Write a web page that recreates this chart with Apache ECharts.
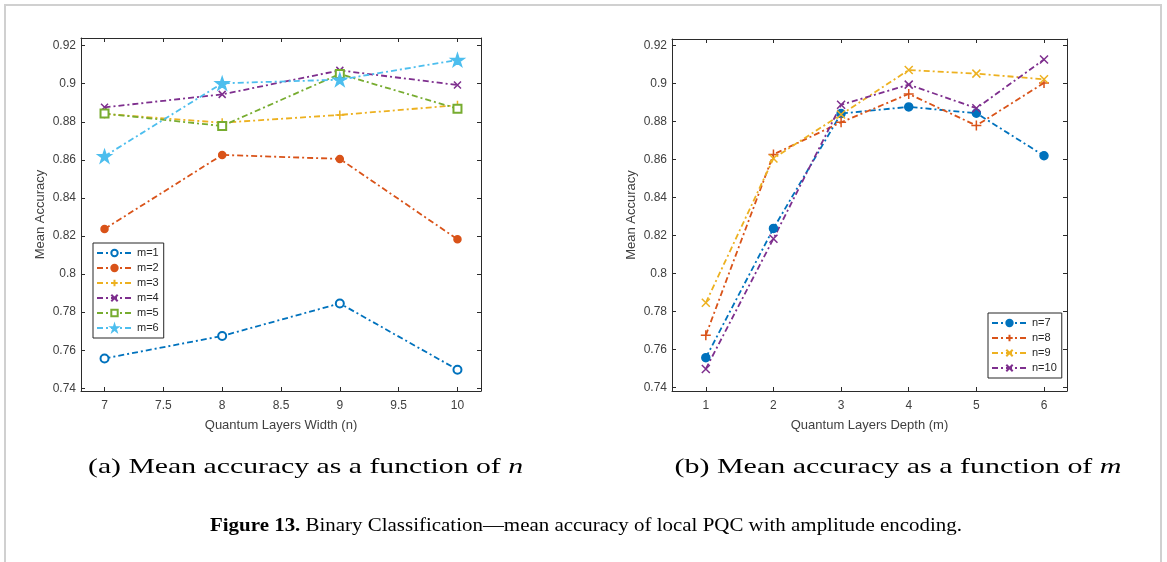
<!DOCTYPE html>
<html><head><meta charset="utf-8">
<script src="https://cdn.jsdelivr.net/npm/echarts@6/dist/echarts.min.js"></script>
<style>html,body{margin:0;padding:0;background:#fff}#c{width:1167px;height:562px}</style>
</head><body><div id="c"></div>
<script>
// ---- data ----
const widthN = [7, 8, 9, 10];
const depthM = [1, 2, 3, 4, 5, 6];
const accM1 = [0.7557, 0.7675, 0.7846, 0.7498];
const accM2 = [0.8237, 0.8626, 0.8605, 0.8183];
const accM3 = [0.8841, 0.8795, 0.8836, 0.8887];
const accM4 = [0.8876, 0.8944, 0.9070, 0.8993];
const accM5 = [0.8843, 0.8778, 0.9051, 0.8869];
const accM6 = [0.8619, 0.9002, 0.9021, 0.9125];
const namesA = ['m=1', 'm=2', 'm=3', 'm=4', 'm=5', 'm=6'];
const namesB = ['n=7', 'n=8', 'n=9', 'n=10'];
const xTicksA = [7, 7.5, 8, 8.5, 9, 9.5, 10];
const xTicksB = [1, 2, 3, 4, 5, 6];
const yTicks = [0.74, 0.76, 0.78, 0.8, 0.82, 0.84, 0.86, 0.88, 0.9, 0.92];

// ---- styling ----
const colors = ['#0072BD', '#D95319', '#EDB120', '#7E2F8E', '#77AC30', '#4DBEEE'];
const STAR = 'path://M100,0 L122.45,69.1 L195.1,69.1 L136.3,111.8 L158.8,180.9 L100,138.2 L41.2,180.9 L63.7,111.8 L4.9,69.1 L77.55,69.1 Z';
const PLUS = 'path://M5,0L5,10M0,5L10,5';
const CROSS = 'path://M0,0L10,10M0,10L10,0';
const symA = [
  {symbol: 'emptyCircle', size: 8},
  {symbol: 'circle', size: 7},
  {symbol: PLUS, size: 9},
  {symbol: CROSS, size: 7},
  {symbol: 'emptyRect', size: 8},
  {symbol: STAR, size: 13}
];
const symB = [
  {symbol: 'circle', size: 8},
  {symbol: PLUS, size: 10},
  {symbol: CROSS, size: 8},
  {symbol: CROSS, size: 8}
];
const DASHDOT = [6, 3, 2, 3];
const axisColor = '#2b2b2b';
const labelColor = '#404040';
const sansFont = '"Liberation Sans", Arial, sans-serif';

function xAxisDef(gridIndex, position, min, max, ticks, showLabels, name) {
  return {
    type: 'value', gridIndex, position, min, max,
    name: showLabels ? name : '', nameLocation: 'middle', nameGap: 28,
    nameTextStyle: {color: labelColor, fontSize: 13, fontFamily: sansFont},
    axisLine: {show: true, onZero: false, lineStyle: {color: axisColor, width: 1}},
    axisTick: {show: true, inside: true, length: 4, customValues: ticks, lineStyle: {color: axisColor}},
    axisLabel: {show: showLabels, customValues: ticks, color: labelColor, fontSize: 12, margin: 9, fontFamily: sansFont},
    splitLine: {show: false}
  };
}
function yAxisDef(gridIndex, position, min, max, showLabels, name) {
  return {
    type: 'value', gridIndex, position, min, max,
    name: showLabels ? name : '', nameLocation: 'middle', nameGap: 34, nameRotate: 90,
    nameTextStyle: {color: labelColor, fontSize: 13, fontFamily: sansFont},
    axisLine: {show: true, onZero: false, lineStyle: {color: axisColor, width: 1}},
    axisTick: {show: true, inside: true, length: 4, customValues: yTicks, lineStyle: {color: axisColor}},
    axisLabel: {show: showLabels, customValues: yTicks, color: labelColor, fontSize: 12, margin: 5, fontFamily: sansFont,
      formatter: v => String(+v.toFixed(2))},
    splitLine: {show: false}
  };
}

const byM = [accM1, accM2, accM3, accM4, accM5, accM6];
const series = [];
byM.forEach((arr, i) => {
  series.push({
    name: namesA[i], type: 'line', xAxisIndex: 0, yAxisIndex: 0,
    data: widthN.map((n, k) => [n, arr[k]]),
    symbol: symA[i].symbol, symbolSize: symA[i].size, symbolKeepAspect: true,
    itemStyle: {color: colors[i], borderColor: colors[i], borderWidth: 1.5},
    lineStyle: {color: colors[i], width: 1.8, type: DASHDOT},
    emphasis: {disabled: true}, animation: false
  });
});
namesB.forEach((nm, j) => {
  series.push({
    name: nm, type: 'line', xAxisIndex: 2, yAxisIndex: 2,
    data: depthM.map((m, k) => [m, byM[k][j]]),
    symbol: symB[j].symbol, symbolSize: symB[j].size, symbolKeepAspect: true,
    itemStyle: {color: colors[j], borderColor: colors[j], borderWidth: 1.5},
    lineStyle: {color: colors[j], width: 1.8, type: DASHDOT},
    emphasis: {disabled: true}, animation: false
  });
});

// text fitting helpers (stretch captions to reference width)
const mctx = document.createElement('canvas').getContext('2d');
function measure(parts) {
  let w = 0;
  parts.forEach(([t, f]) => { mctx.font = f; w += mctx.measureText(t).width; });
  return w;
}
const serif = '"Liberation Serif", "Times New Roman", serif';
const capA = '(a) Mean accuracy as a function of ';
const capB = '(b) Mean accuracy as a function of ';
const capFigBold = 'Figure 13.';
const capFigRest = ' Binary Classification\u2014mean accuracy of local PQC with amplitude encoding.';
const sA = 435 / measure([[capA, '21px ' + serif], ['n', 'italic 21px ' + serif]]);
const sB = 447 / measure([[capB, '21px ' + serif], ['m', 'italic 21px ' + serif]]);
const sF = 752 / measure([[capFigBold, 'bold 19px ' + serif], [capFigRest, '19px ' + serif]]);

const richCap = {
  r: {fontFamily: serif, fontSize: 21, color: '#111'},
  i: {fontFamily: serif, fontSize: 21, fontStyle: 'italic', color: '#111'}
};

const option = {
  backgroundColor: '#fff',
  animation: false,
  grid: [
    {left: 81, top: 38, width: 400, height: 353, show: false},
    {left: 672, top: 39, width: 395, height: 352, show: false}
  ],
  xAxis: [
    xAxisDef(0, 'bottom', 6.8, 10.2, xTicksA, true, 'Quantum Layers Width (n)'),
    xAxisDef(0, 'top', 6.8, 10.2, xTicksA, false, ''),
    xAxisDef(1, 'bottom', 0.5, 6.34, xTicksB, true, 'Quantum Layers Depth (m)'),
    xAxisDef(1, 'top', 0.5, 6.34, xTicksB, false, '')
  ],
  yAxis: [
    yAxisDef(0, 'left', 0.7386, 0.924, true, 'Mean Accuracy'),
    yAxisDef(0, 'right', 0.7386, 0.924, false, ''),
    yAxisDef(1, 'left', 0.7382, 0.9233, true, 'Mean Accuracy'),
    yAxisDef(1, 'right', 0.7382, 0.9233, false, '')
  ],
  legend: [
    {
      data: namesA, orient: 'vertical', left: 93, top: 243,
      itemWidth: 35, itemHeight: 8, itemGap: 3, padding: [4, 5, 4, 3],
      borderColor: '#262626', borderWidth: 1, backgroundColor: '#fff',
      textStyle: {fontSize: 11, color: '#262626', fontFamily: sansFont, lineHeight: 12},
      selectedMode: false
    },
    {
      data: namesB, orient: 'vertical', left: 988, top: 313,
      itemWidth: 35, itemHeight: 8, itemGap: 3, padding: [4, 5, 4, 3],
      borderColor: '#262626', borderWidth: 1, backgroundColor: '#fff',
      textStyle: {fontSize: 11, color: '#262626', fontFamily: sansFont, lineHeight: 12},
      selectedMode: false
    }
  ],
  graphic: [
    {type: 'rect', shape: {x: 5, y: 5, width: 1156, height: 600},
     style: {fill: 'none', stroke: '#d0d0d0', lineWidth: 2}, silent: true},
    {type: 'text', x: 305.5, y: 467, scaleX: sA, scaleY: 1,
     style: {text: '{r|' + capA + '}{i|n}', rich: richCap, align: 'center', verticalAlign: 'middle'}},
    {type: 'text', x: 898, y: 467, scaleX: sB, scaleY: 1,
     style: {text: '{r|' + capB + '}{i|m}', rich: richCap, align: 'center', verticalAlign: 'middle'}},
    {type: 'text', x: 586, y: 526, scaleX: sF, scaleY: 1,
     style: {text: '{b|' + capFigBold + '}{r|' + capFigRest + '}', align: 'center', verticalAlign: 'middle',
       rich: {
         b: {fontFamily: serif, fontSize: 19, fontWeight: 'bold', color: '#111'},
         r: {fontFamily: serif, fontSize: 19, color: '#111'}
       }}}
  ],
  series
};
const chart = echarts.init(document.getElementById('c'), null, {renderer: 'canvas'});
chart.setOption(option);
</script>
</body></html>
